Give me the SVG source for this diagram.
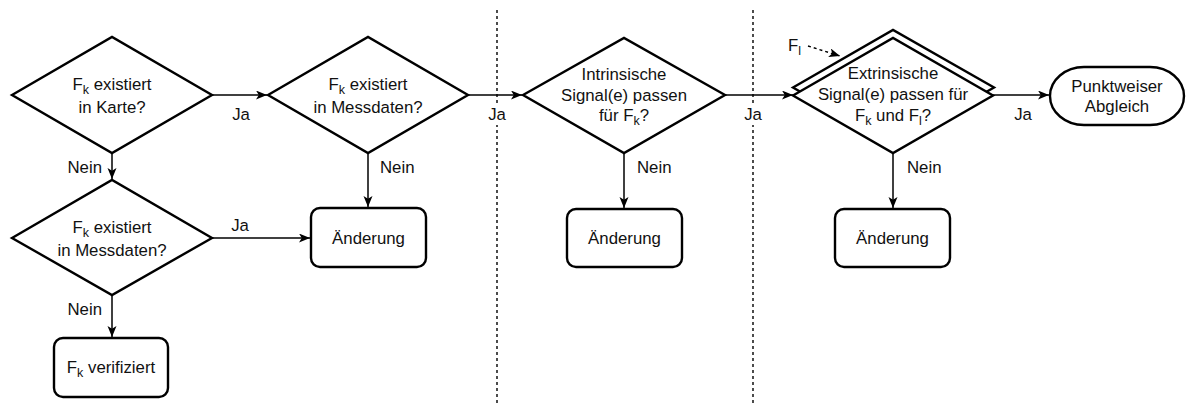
<svg xmlns="http://www.w3.org/2000/svg" width="1187" height="406" viewBox="0 0 1187 406">
<style>
.s{fill:#fff;stroke:#000;stroke-width:2.4;stroke-linejoin:miter}
.t{font-family:"Liberation Sans",Arial,sans-serif;font-size:16.8px;fill:#111;text-anchor:middle}
.l{font-family:"Liberation Sans",Arial,sans-serif;font-size:16.8px;fill:#111}
.c{fill:none;stroke:#000;stroke-width:1.5}
.d{fill:none;stroke:#000;stroke-width:1.4;stroke-dasharray:3 3}
.sub{font-size:12.5px}
</style>
<defs>
<marker id="a" markerUnits="userSpaceOnUse" markerWidth="13" markerHeight="10" refX="11" refY="4.5" orient="auto">
<path d="M0,0 L11,4.5 L0,9 L2.8,4.5 Z" fill="#000"/>
</marker>
</defs>
<g id="separators">
<line class="d" x1="497" y1="10" x2="497" y2="406"/>
<line class="d" x1="753" y1="10" x2="753" y2="406"/>
</g>
<g id="connectors">
<line class="c" x1="212" y1="95" x2="267" y2="95" marker-end="url(#a)"/>
<line class="c" x1="468" y1="95" x2="522" y2="95" marker-end="url(#a)"/>
<line class="c" x1="725" y1="95" x2="793" y2="95" marker-end="url(#a)"/>
<line class="c" x1="993" y1="95" x2="1049" y2="95" marker-end="url(#a)"/>
<line class="c" x1="112" y1="153" x2="112" y2="179" marker-end="url(#a)"/>
<line class="c" x1="368" y1="153" x2="368" y2="207" marker-end="url(#a)"/>
<line class="c" x1="624" y1="153" x2="624" y2="208" marker-end="url(#a)"/>
<line class="c" x1="893" y1="153" x2="893" y2="208" marker-end="url(#a)"/>
<line class="c" x1="212" y1="238" x2="310" y2="238" marker-end="url(#a)"/>
<line class="c" x1="112" y1="295" x2="112" y2="337" marker-end="url(#a)"/>
<line class="d" x1="808" y1="46" x2="840" y2="56" marker-end="url(#a)"/>
<text class="t" x="241" y="120">Ja</text>
<rect x="487" y="105" width="20" height="20" fill="#fff"/>
<text class="t" x="497" y="120">Ja</text>
<rect x="743" y="105" width="20" height="20" fill="#fff"/>
<text class="t" x="753" y="120">Ja</text>
<text class="t" x="1023" y="120">Ja</text>
<text class="l" x="102" y="173" text-anchor="end">Nein</text>
<text class="l" x="380" y="173">Nein</text>
<text class="l" x="637" y="173">Nein</text>
<text class="l" x="907" y="173">Nein</text>
<text class="t" x="240" y="231">Ja</text>
<text class="l" x="102" y="315" text-anchor="end">Nein</text>
<text class="l" x="788" y="51">F<tspan class="sub" dy="4">l</tspan></text>
</g>
<g id="d1">
<polygon class="s" points="12,95 112,37 212,95 112,153"/>
<text class="t" x="112" y="90">F<tspan class="sub" dy="4">k</tspan><tspan dy="-4"> existiert</tspan></text>
<text class="t" x="112" y="113">in Karte?</text>
</g>
<g id="d2">
<polygon class="s" points="268,95 368,37 468,95 368,153"/>
<text class="t" x="368" y="90">F<tspan class="sub" dy="4">k</tspan><tspan dy="-4"> existiert</tspan></text>
<text class="t" x="368" y="113">in Messdaten?</text>
</g>
<g id="d3">
<polygon class="s" points="523,95 624,38 725,95 624,153"/>
<text class="t" x="624" y="80">Intrinsische</text>
<text class="t" x="624" y="101">Signal(e) passen</text>
<text class="t" x="624" y="121">für F<tspan class="sub" dy="4">k</tspan><tspan dy="-4">?</tspan></text>
</g>
<g id="d4">
<polygon class="s" points="793,87.5 893,30 994,87.5 893,145"/>
<polygon class="s" points="793,95.5 893,38 993,95.5 893,153"/>
<text class="t" x="893" y="79">Extrinsische</text>
<text class="t" x="893" y="100">Signal(e) passen für</text>
<text class="t" x="893" y="121">F<tspan class="sub" dy="4">k</tspan><tspan dy="-4"> und F</tspan><tspan class="sub" dy="4">l</tspan><tspan dy="-4">?</tspan></text>
</g>
<g id="d5">
<polygon class="s" points="12,238 112,180 212,238 112,295"/>
<text class="t" x="112" y="233">F<tspan class="sub" dy="4">k</tspan><tspan dy="-4"> existiert</tspan></text>
<text class="t" x="112" y="256">in Messdaten?</text>
</g>
<g id="end">
<rect class="s" x="1050" y="67" width="134" height="58" rx="34" ry="29"/>
<text class="t" x="1117" y="92">Punktweiser</text>
<text class="t" x="1117" y="112">Abgleich</text>
</g>
<g id="ch1">
<rect class="s" x="311" y="208" width="115" height="59" rx="9"/>
<text class="t" x="368.5" y="244">Änderung</text>
</g>
<g id="ch2">
<rect class="s" x="567" y="209" width="115" height="58" rx="9"/>
<text class="t" x="624.5" y="244">Änderung</text>
</g>
<g id="ch3">
<rect class="s" x="835" y="209" width="115" height="58" rx="9"/>
<text class="t" x="892.5" y="244">Änderung</text>
</g>
<g id="ver">
<rect class="s" x="54" y="338" width="114" height="59" rx="9"/>
<text class="t" x="111" y="373">F<tspan class="sub" dy="4">k</tspan><tspan dy="-4"> verifiziert</tspan></text>
</g>
</svg>
